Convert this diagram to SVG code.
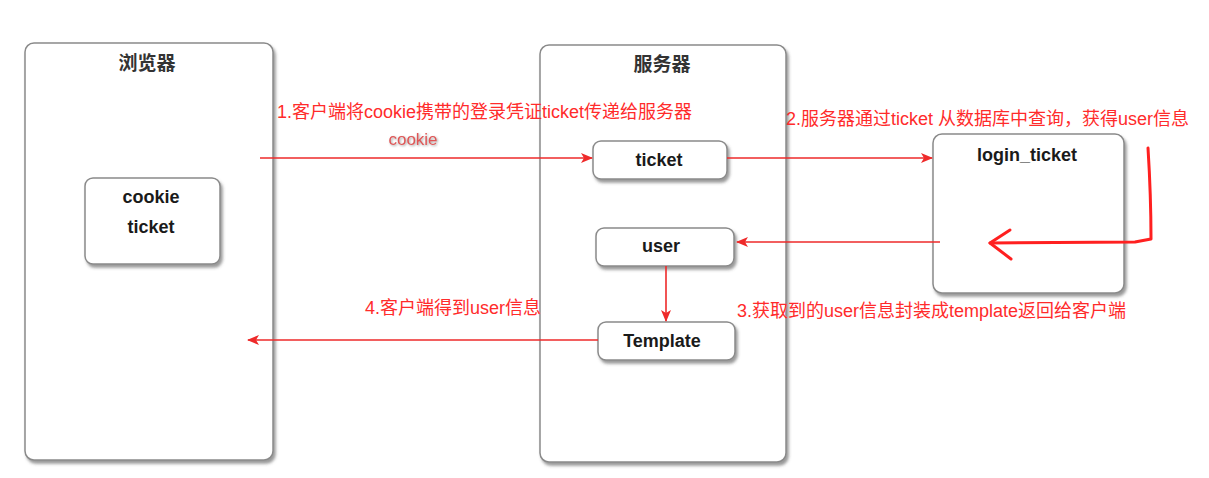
<svg xmlns="http://www.w3.org/2000/svg" width="1209" height="478" viewBox="0 0 1209 478">
<defs>
<filter id="sh" x="-10%" y="-10%" width="130%" height="130%">
<feDropShadow dx="2" dy="3" stdDeviation="1.5" flood-color="#555" flood-opacity="0.6"/>
</filter>
<filter id="glow" x="-20%" y="-40%" width="140%" height="180%">
<feDropShadow dx="1" dy="1" stdDeviation="1.2" flood-color="#888" flood-opacity="0.8"/>
</filter>
<marker id="ah" viewBox="0 0 12 10" refX="11" refY="5" markerWidth="12" markerHeight="10" markerUnits="userSpaceOnUse" orient="auto">
<path d="M0,0 L12,5 L0,10 L3,5 Z" fill="#ee2a2a"/>
</marker>
<style>
.box{fill:#fff;stroke:#8a8a8a;stroke-width:1.5;filter:url(#sh)}
.title{font-family:"Liberation Sans","Noto Sans CJK SC",sans-serif;font-size:19px;font-weight:bold;fill:#333;text-anchor:middle}
.lbl{font-family:"Liberation Sans","Noto Sans CJK SC",sans-serif;font-size:18px;font-weight:bold;fill:#1a1a1a;text-anchor:middle}
.note{font-family:"Liberation Sans","Noto Sans CJK SC",sans-serif;font-size:18px;fill:#ff2b2b}
.conn{stroke:#ee2a2a;stroke-width:1.6;fill:none}
.hand{stroke:#ff2020;stroke-width:3;fill:none;stroke-linecap:round;stroke-linejoin:round}
</style>
</defs>
<rect width="1209" height="478" fill="#fff"/>

<g id="browser">
<rect class="box" x="25" y="43" width="248" height="417" rx="9"/>
<text class="title" x="147" y="70">浏览器</text>
</g>
<g id="server">
<rect class="box" x="540" y="45" width="246" height="417" rx="9"/>
<text class="title" x="662" y="71">服务器</text>
</g>
<g id="cookie-ticket">
<rect class="box" x="85" y="178" width="135" height="86" rx="8"/>
<text class="lbl" x="151" y="203">cookie</text>
<text class="lbl" x="151" y="233">ticket</text>
</g>
<g id="ticket">
<rect class="box" x="593" y="141" width="134" height="38" rx="8"/>
<text class="lbl" x="659" y="166">ticket</text>
</g>
<g id="user">
<rect class="box" x="596" y="228" width="138" height="38" rx="8"/>
<text class="lbl" x="661" y="252">user</text>
</g>
<g id="template">
<rect class="box" x="598" y="322" width="137" height="38" rx="8"/>
<text class="lbl" x="662" y="347">Template</text>
</g>
<g id="login_ticket">
<rect class="box" x="933" y="134" width="191" height="159" rx="9"/>
<text class="lbl" x="1027" y="161">login_ticket</text>
</g>

<g id="connectors">
<line class="conn" x1="260" y1="158" x2="592" y2="158" marker-end="url(#ah)"/>
<line class="conn" x1="727" y1="158" x2="932" y2="158" marker-end="url(#ah)"/>
<line class="conn" x1="940" y1="242" x2="737" y2="242" marker-end="url(#ah)"/>
<line class="conn" x1="666" y1="266" x2="666" y2="321" marker-end="url(#ah)"/>
<line class="conn" x1="598" y1="340" x2="248" y2="340" marker-end="url(#ah)"/>
<path class="hand" d="M1148,148 C1150,180 1151,215 1151,239 L1135,242 L990,243"/>
<path class="hand" d="M1010,230 L990,243 L1011,259"/>
</g>

<g id="labels">
<text class="note" x="277" y="118">1.客户端将cookie携带的登录凭证ticket传递给服务器</text>
<text x="413" y="145" font-family="Liberation Sans, sans-serif" font-size="17" fill="#e05555" text-anchor="middle" filter="url(#glow)">cookie</text>
<text class="note" x="786" y="125">2.服务器通过ticket 从数据库中查询，获得user信息</text>
<text class="note" x="737" y="317">3.获取到的user信息封装成template返回给客户端</text>
<text class="note" x="365" y="314">4.客户端得到user信息</text>
</g>
</svg>
